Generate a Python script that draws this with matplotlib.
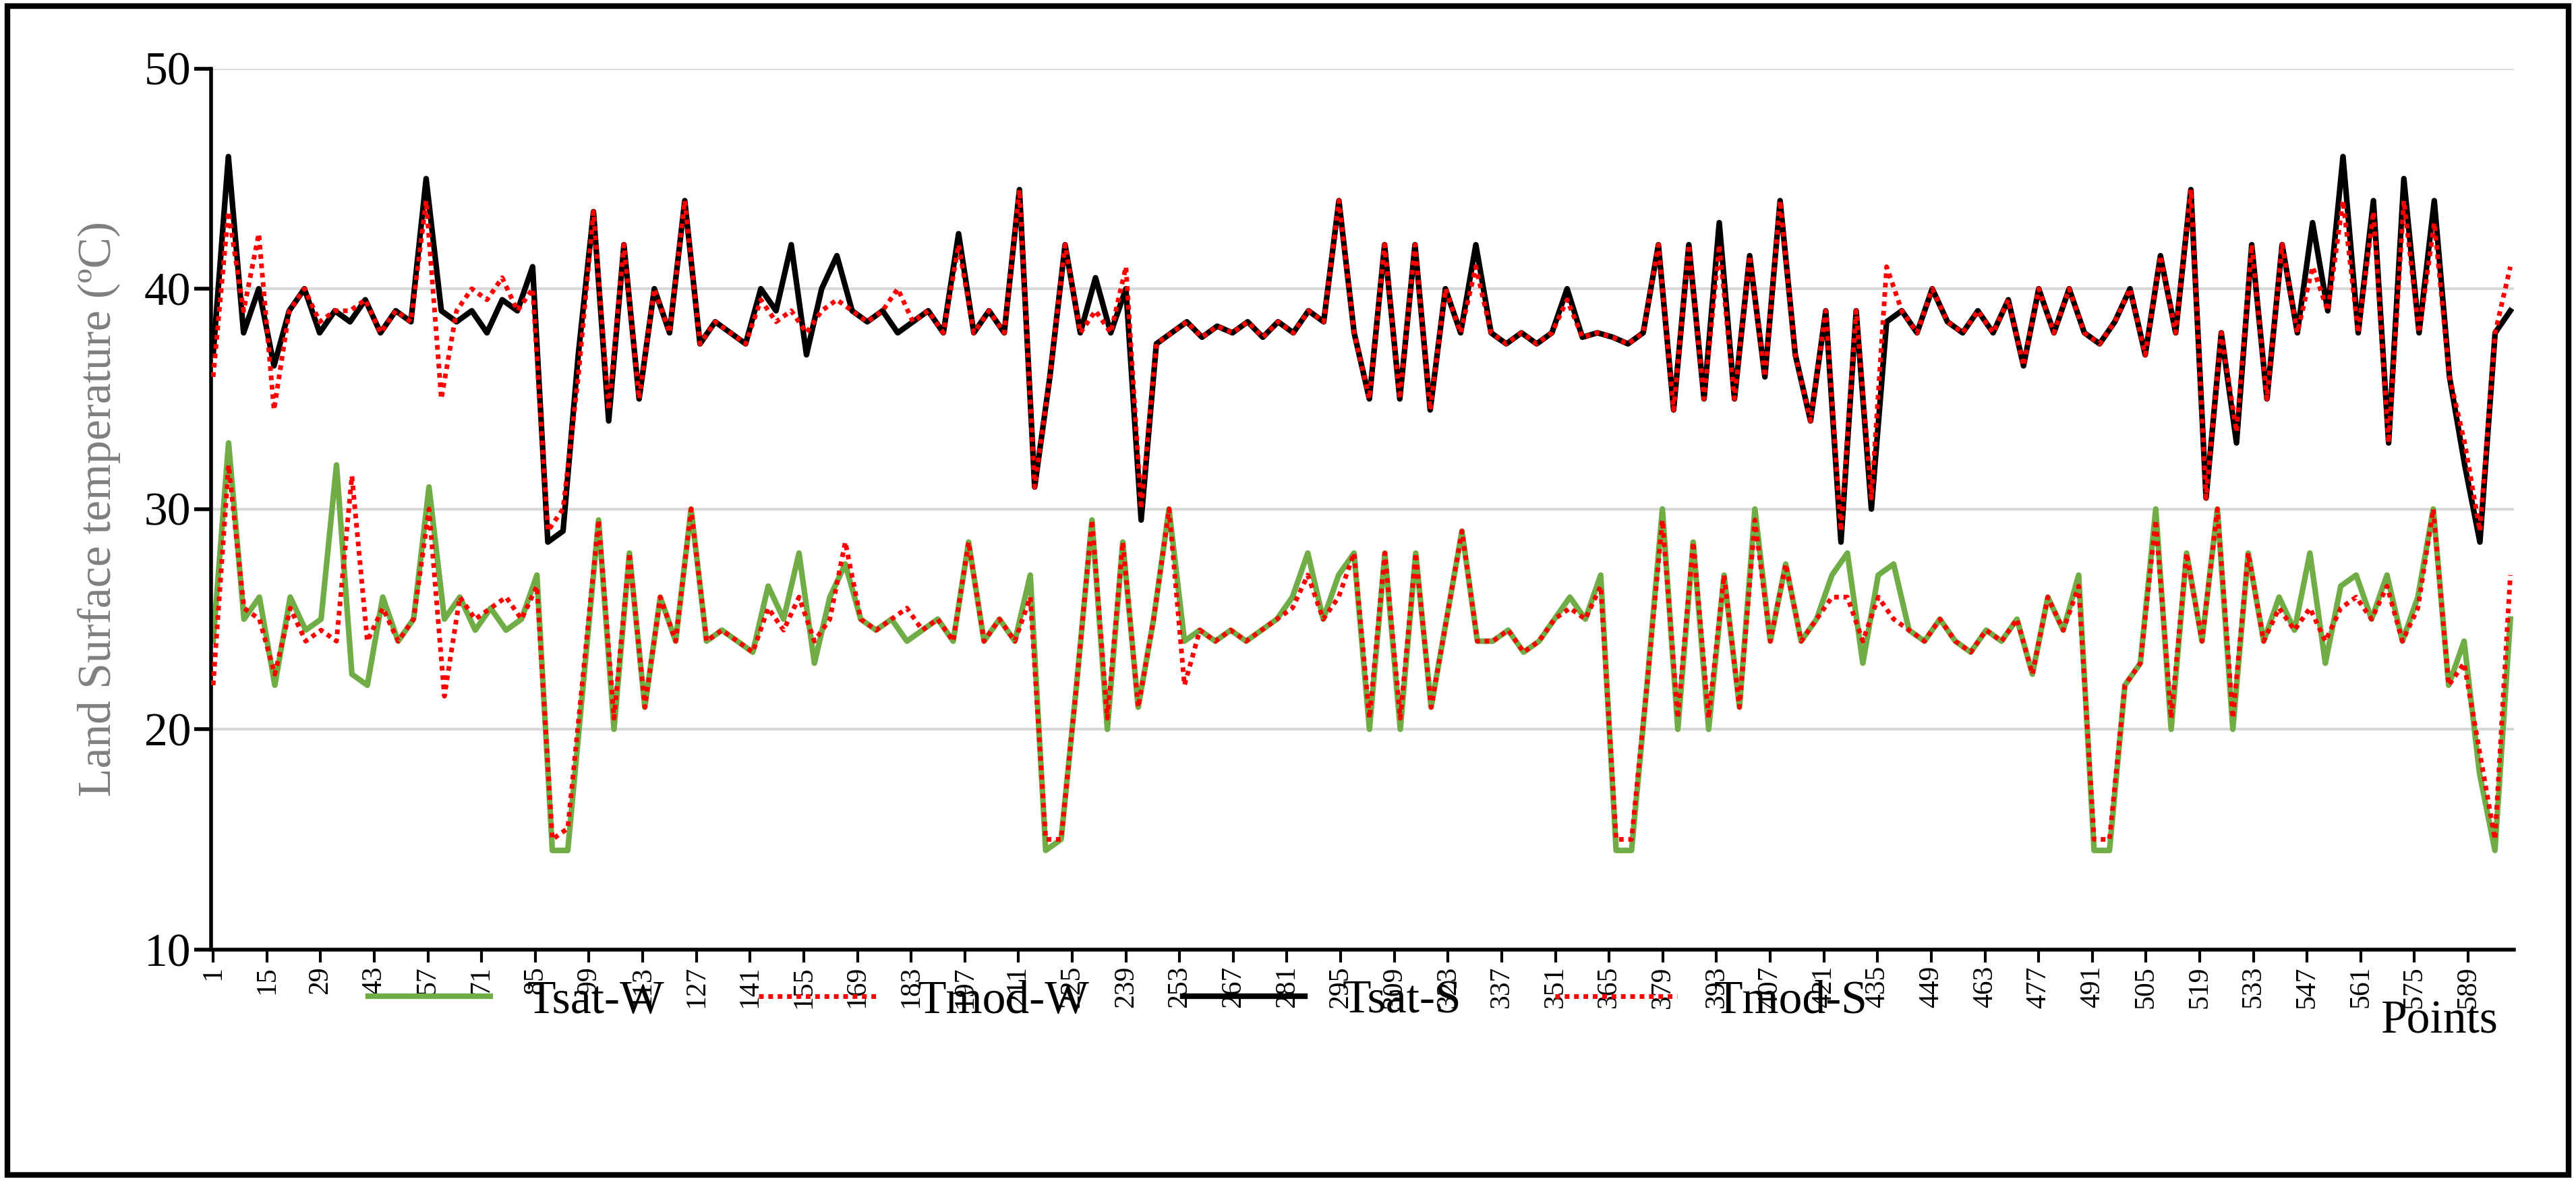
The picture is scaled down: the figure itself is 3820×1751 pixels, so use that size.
import numpy as np
import matplotlib
matplotlib.use('Agg')
import matplotlib.pyplot as plt
from matplotlib.patches import Rectangle

plt.rcParams['font.family'] = ['Liberation Serif', 'DejaVu Serif']

# --- DATOS (aprox. un valor cada 4 puntos) ---
tsat_s = [37, 46, 38, 40, 36.5, 39, 40, 38, 39, 38.5, 39.5, 38, 39, 38.5, 45, 39, 38.5, 39, 38, 39.5,
          39, 41, 28.5, 29, 37, 43.5, 34, 42, 35, 40, 38, 44, 37.5, 38.5, 38, 37.5, 40, 39, 42, 37,
          40, 41.5, 39, 38.5, 39, 38, 38.5, 39, 38, 42.5, 38, 39, 38, 44.5, 31, 36, 42, 38, 40.5, 38,
          40, 29.5, 37.5, 38, 38.5, 37.8, 38.3, 38, 38.5, 37.8, 38.5, 38, 39, 38.5, 44, 38, 35, 42, 35, 42,
          34.5, 40, 38, 42, 38, 37.5, 38, 37.5, 38, 40, 37.8, 38, 37.8, 37.5, 38, 42, 34.5, 42, 35, 43,
          35, 41.5, 36, 44, 37, 34, 39, 28.5, 39, 30, 38.5, 39, 38, 40, 38.5, 38, 39, 38, 39.5, 36.5,
          40, 38, 40, 38, 37.5, 38.5, 40, 37, 41.5, 38, 44.5, 30.5, 38, 33, 42, 35, 42, 38, 43, 39,
          46, 38, 44, 33, 45, 38, 44, 36, 32, 28.5, 38, 39]
tmod_s = [36, 43.5, 39, 42.5, 34.5, 39, 40, 38.5, 39, 39, 39.5, 38, 39, 38.5, 44, 35, 39, 40, 39.5, 40.5,
          39, 40, 29, 30, 36, 43.5, 34.5, 42, 35, 40, 38, 44, 37.5, 38.5, 38, 37.5, 39.5, 38.5, 39, 38,
          39, 39.5, 39, 38.5, 39, 40, 38.5, 39, 38, 42, 38, 39, 38, 44.5, 31, 36, 42, 38, 39, 38,
          41, 30, 37.5, 38, 38.5, 37.8, 38.3, 38, 38.5, 37.8, 38.5, 38, 39, 38.5, 44, 38, 35, 42, 35, 42,
          34.5, 40, 38, 41, 38, 37.5, 38, 37.5, 38, 39.5, 37.8, 38, 37.8, 37.5, 38, 42, 34.5, 42, 35, 42,
          35, 41.5, 36, 44, 37, 34, 39, 29, 39, 30.5, 41, 39, 38, 40, 38.5, 38, 39, 38, 39.5, 36.5,
          40, 38, 40, 38, 37.5, 38.5, 40, 37, 41.5, 38, 44.5, 30.5, 38, 33.5, 42, 35, 42, 38, 41, 39,
          44, 38, 43.5, 33, 44, 38, 43, 36, 33, 29, 38, 41]
tsat_w = [24, 33, 25, 26, 22, 26, 24.5, 25, 32, 22.5, 22, 26, 24, 25, 31, 25, 26, 24.5, 25.5, 24.5,
          25, 27, 14.5, 14.5, 22, 29.5, 20, 28, 21, 26, 24, 30, 24, 24.5, 24, 23.5, 26.5, 25, 28, 23,
          26, 27.5, 25, 24.5, 25, 24, 24.5, 25, 24, 28.5, 24, 25, 24, 27, 14.5, 15, 22, 29.5, 20, 28.5,
          21, 25, 30, 24, 24.5, 24, 24.5, 24, 24.5, 25, 26, 28, 25, 27, 28, 20, 28, 20, 28, 21,
          25, 29, 24, 24, 24.5, 23.5, 24, 25, 26, 25, 27, 14.5, 14.5, 22, 30, 20, 28.5, 20, 27, 21,
          30, 24, 27.5, 24, 25, 27, 28, 23, 27, 27.5, 24.5, 24, 25, 24, 23.5, 24.5, 24, 25, 22.5, 26,
          24.5, 27, 14.5, 14.5, 22, 23, 30, 20, 28, 24, 30, 20, 28, 24, 26, 24.5, 28, 23, 26.5, 27,
          25, 27, 24, 26, 30, 22, 24, 18, 14.5, 25]
tmod_w = [22, 32, 25.5, 25, 22.5, 25.5, 24, 24.5, 24, 31.5, 24, 25.5, 24, 25, 30, 21.5, 26, 25, 25.5, 26,
          25, 26.5, 15, 15.5, 22.5, 29.5, 20.5, 28, 21, 26, 24, 30, 24, 24.5, 24, 23.5, 25.5, 24.5, 26, 24,
          25, 28.5, 25, 24.5, 25, 25.5, 24.5, 25, 24, 28.5, 24, 25, 24, 26, 15, 15, 22, 29.5, 20.5, 28.5,
          21, 25, 30, 22, 24.5, 24, 24.5, 24, 24.5, 25, 25.5, 27, 25, 26, 28, 20.5, 28, 20.5, 28, 21,
          25, 29, 24, 24, 24.5, 23.5, 24, 25, 25.5, 25, 26.5, 15, 15, 22, 29.5, 20.5, 28.5, 20.5, 27, 21,
          29.5, 24, 27.5, 24, 25, 26, 26, 24, 26, 25, 24.5, 24, 25, 24, 23.5, 24.5, 24, 25, 22.5, 26,
          24.5, 26.5, 15, 15, 22, 23, 29.5, 20.5, 28, 24, 30, 20.5, 28, 24, 25.5, 24.5, 25.5, 24, 25.5, 26,
          25, 26.5, 24, 25.5, 30, 22, 23, 19, 15, 27]

ticks = np.arange(1, 600, 14)


def puntos(serie):
    # posiciones de las muestras sobre el eje de puntos (1..600)
    return np.linspace(1, 600, len(serie))


fig = plt.figure(figsize=(38.2, 17.51), dpi=100)
ax = fig.add_axes([0.082, 0.196, 0.894, 0.746])

ax.plot(puntos(tsat_w), tsat_w, color='#70AD47', lw=6, label='Tsat-W', zorder=2)
ax.plot(puntos(tmod_w), tmod_w, color='#FF0000', lw=5, ls=(0, (1, 1)), label='Tmod-W', zorder=3)
ax.plot(puntos(tsat_s), tsat_s, color='black', lw=6, label='Tsat-S', zorder=2)
ax.plot(puntos(tmod_s), tmod_s, color='#FF0000', lw=5, ls=(0, (1, 1)), label='Tmod-S', zorder=3)

ax.set_ylim(10, 50)
ax.set_xlim(0.5, 601)
ax.set_yticks([10, 20, 30, 40, 50])
ax.set_xticks(ticks)
ax.set_xticklabels([str(t) for t in ticks], rotation=90, fontsize=30)
ax.tick_params(axis='y', labelsize=50, length=18, width=4, direction='out')
ax.tick_params(axis='x', length=14, width=3, direction='out')
ax.grid(axis='y', color='#D9D9D9', lw=3)
ax.set_axisbelow(True)
for s in ['top', 'right']:
    ax.spines[s].set_visible(False)
for s in ['left', 'bottom']:
    ax.spines[s].set_linewidth(4)
ax.set_ylabel('Land Surface temperature (ºC)', fontsize=50, color='#7F7F7F', labelpad=25)

fig.legend(loc='center', bbox_to_anchor=(0.434, 0.152), ncol=4, fontsize=50,
           frameon=False, handlelength=2.6, columnspacing=2.0)
fig.text(0.947, 0.135, 'Points', fontsize=50, ha='center', va='center')

fig.patches.append(Rectangle((0.003, 0.005), 0.994, 0.99, transform=fig.transFigure,
                             fill=False, edgecolor='black', lw=6))

fig.savefig('out.png', dpi=100)
